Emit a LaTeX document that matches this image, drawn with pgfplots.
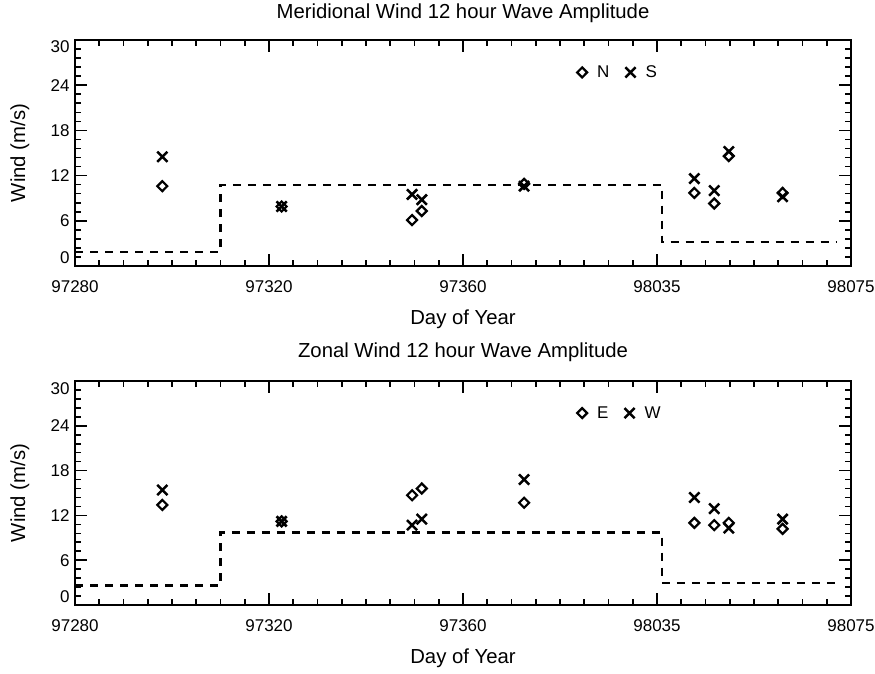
\documentclass[border=0pt]{standalone}
\usepackage{pgfplots}
\pgfplotsset{compat=1.18}
\usepackage{fontspec}
\setmainfont{Liberation Sans}

\pgfplotsset{
  windstyle/.style={
    scale only axis,
    width=776pt,
    xmin=0, xmax=160, ymin=0, ymax=30,
    xtick={0,40,80,120,160},
    xticklabels={97280,97320,97360,98035,98075},
    minor x tick num=7,
    ytick={0,6,12,18,24,30},
    yticklabels={\raisebox{9pt}[0pt][0pt]{0},6,12,18,24,\raisebox{-7pt}[0pt][0pt]{30}},
    minor y tick num=4,
    major tick length=12pt,
    minor tick length=6pt,
    axis line style={line width=2pt},
    every tick/.style={line width=1.6pt, black},
    tick align=inside,
    /pgf/number format/assume math mode=true,
    tick label style={font=\fontsize{17}{20}\selectfont},
    xticklabel style={anchor=base, yshift=-26pt},
    yticklabel style={anchor=base east, yshift=-6pt, xshift=-2pt},
    label style={font=\fontsize{20.3}{24}\selectfont},
    xlabel style={at={(axis description cs:0.5,0)}, anchor=base, yshift=-58pt},
    ylabel style={at={(axis description cs:-0.0709,0.5)}, anchor=center},
    title style={font=\fontsize{20.3}{24}\selectfont, at={(axis description cs:0.5,1)}, anchor=base},
    xlabel={Day of Year},
    ylabel={Wind (m/s)},
    legend columns=2,
    legend style={draw=none, fill=none, inner sep=0pt, anchor=west,
      font=\fontsize{17}{20}\selectfont,
      /tikz/every odd column/.append style={column sep=8pt},
      /tikz/every even column/.append style={column sep=14pt}},
    legend image code/.code={\draw[mark repeat=2,mark phase=2,#1] plot coordinates {(0pt,0pt) (5pt,0pt) (10pt,0pt)};},
  },
  dia/.style={only marks, black, mark=diamond, mark size=5pt, mark options={line width=2.2pt, xscale=1.33}},
  crs/.style={only marks, black, mark=x, mark size=7.2pt, mark options={line width=2.5pt}},
  step/.style={black, line width=2.2pt, dash pattern=on 8pt off 7pt, mark=none},
}

\begin{document}
\begin{tikzpicture}
\useasboundingbox (0,0) rectangle (875pt,673pt);

% ---------------- Meridional ----------------
\begin{axis}[windstyle, at={(75pt,407pt)}, anchor=south west, height=226pt,
  title={Meridional Wind 12 hour Wave Amplitude}, title style={yshift=15pt},
  legend style={at={(axis cs:103.5,25.7)}}]
\addplot[dia] coordinates {
 (18,10.6) (42.6,7.9) (69.5,6.1) (71.5,7.3) (92.6,10.9)
 (127.7,9.7) (131.8,8.3) (134.8,14.6) (145.9,9.7)};
\addlegendentry{N}
\addplot[crs] coordinates {
 (18,14.5) (42.6,7.9) (69.5,9.5) (71.5,8.8) (92.6,10.6)
 (127.7,11.6) (131.8,10.0) (134.8,15.2) (145.9,9.2)};
\addlegendentry{S}
\addplot[step, forget plot] coordinates {
 (0,1.9) (30,1.9) (30,10.8) (121,10.8) (121,3.2) (157,3.2)};
\end{axis}

% ---------------- Zonal ----------------
\begin{axis}[windstyle, at={(75pt,68pt)}, anchor=south west, height=224pt,
  title={Zonal Wind 12 hour Wave Amplitude}, title style={yshift=18pt},
  legend style={at={(axis cs:103.5,25.7)}}]
\addplot[dia] coordinates {
 (18,13.4) (42.6,11.2) (69.5,14.7) (71.5,15.6) (92.6,13.7)
 (127.7,11.0) (131.8,10.7) (134.8,11.0) (145.9,10.2)};
\addlegendentry{E}
\addplot[crs] coordinates {
 (18,15.4) (42.6,11.2) (69.5,10.7) (71.5,11.5) (92.6,16.8)
 (127.7,14.4) (131.8,12.9) (134.8,10.3) (145.9,11.5)};
\addlegendentry{W}
\addplot[step, forget plot] coordinates {
 (0,2.6) (30,2.6) (30,9.7) (121,9.7) (121,3.0) (157,3.0)};
\end{axis}
\end{tikzpicture}
\end{document}
